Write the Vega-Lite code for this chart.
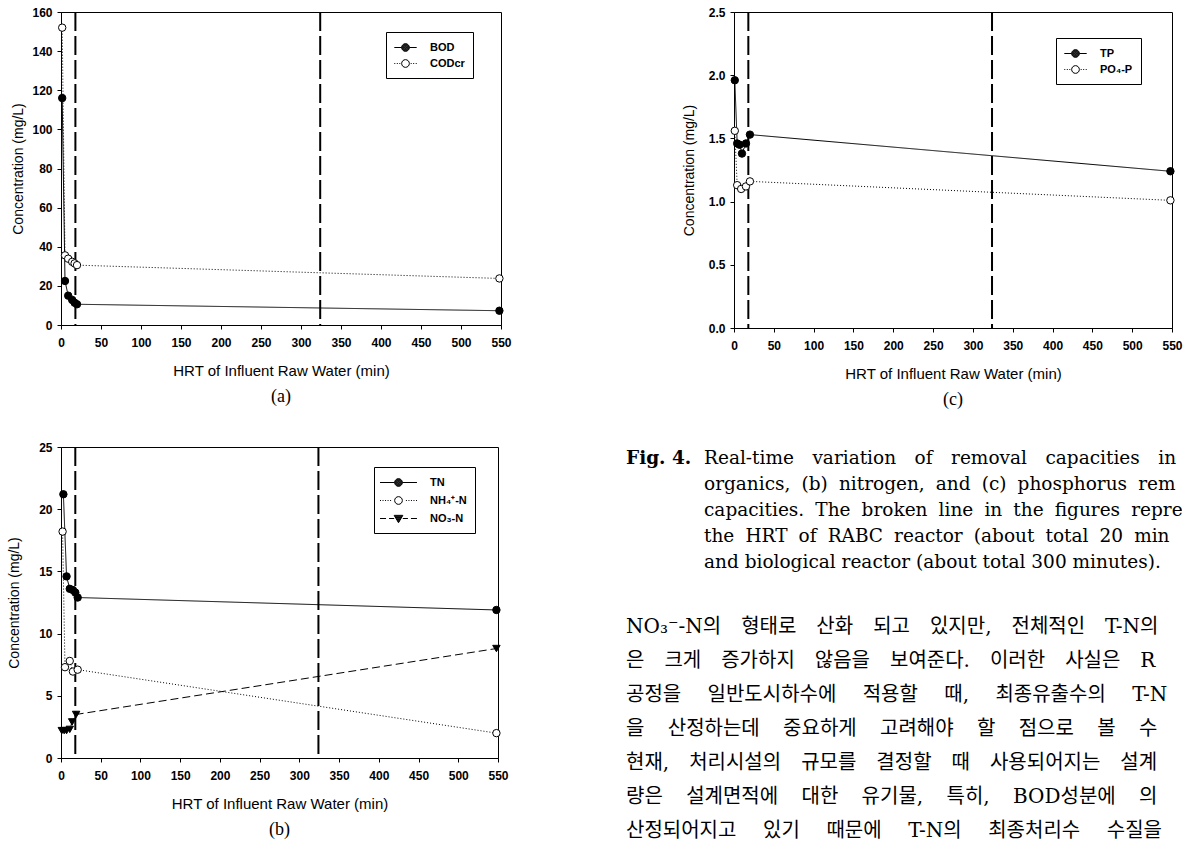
{
  "$schema": "https://vega.github.io/schema/vega-lite/v6.json",
  "background": "white",
  "padding": {"left": 7, "top": 5, "right": 0, "bottom": 0},
  "config": {
    "font": "Liberation Sans",
    "view": {"stroke": "black", "strokeWidth": 1},
    "axis": {"domainColor": "black", "domainWidth": 1, "tickColor": "black", "tickSize": 4, "labelFont": "Liberation Sans", "labelFontSize": 12, "labelFontWeight": "bold", "labelColor": "black", "titleFont": "Liberation Sans", "titleFontSize": 14, "titleFontWeight": "normal", "titleColor": "black", "grid": false},
    "axisX": {"labelPadding": 8, "titlePadding": 15, "titleFontSize": 15, "labelFlush": false, "labelOverlap": false},
    "axisY": {"labelPadding": 5, "titlePadding": 13, "labelOverlap": false},
    "title": {"font": "Liberation Serif", "fontSize": 18, "fontWeight": "normal", "color": "black"},
    "legend": {"title": null, "orient": "none", "direction": "vertical", "padding": 8, "strokeColor": "black", "fillColor": "white", "symbolSize": 196, "labelFont": "Liberation Sans", "labelFontSize": 11, "labelFontWeight": "bold", "labelColor": "black", "symbolStrokeColor": "black", "symbolStrokeWidth": 1, "symbolFillColor": "transparent", "symbolOpacity": 1}
  },
  "datasets": {
    "refLines": [{"hrt": 18}, {"hrt": 324}],
    "organics": [
      {"series": "BOD", "hrt": 1.5, "conc": 116},
      {"series": "BOD", "hrt": 5, "conc": 22.5},
      {"series": "BOD", "hrt": 9, "conc": 15},
      {"series": "BOD", "hrt": 14, "conc": 12.8},
      {"series": "BOD", "hrt": 17, "conc": 11.4},
      {"series": "BOD", "hrt": 20, "conc": 10.6},
      {"series": "BOD", "hrt": 548, "conc": 7.3},
      {"series": "CODcr", "hrt": 1.5, "conc": 152},
      {"series": "CODcr", "hrt": 5, "conc": 35.6},
      {"series": "CODcr", "hrt": 9, "conc": 33.9},
      {"series": "CODcr", "hrt": 14, "conc": 32.3},
      {"series": "CODcr", "hrt": 17, "conc": 31.5},
      {"series": "CODcr", "hrt": 20, "conc": 30.6},
      {"series": "CODcr", "hrt": 548, "conc": 23.8}
    ],
    "nitrogen": [
      {"series": "TN", "hrt": 3, "conc": 21.2},
      {"series": "TN", "hrt": 7, "conc": 14.6},
      {"series": "TN", "hrt": 11, "conc": 13.6},
      {"series": "TN", "hrt": 15, "conc": 13.5},
      {"series": "TN", "hrt": 18, "conc": 13.3},
      {"series": "TN", "hrt": 21, "conc": 12.9},
      {"series": "TN", "hrt": 548, "conc": 11.9},
      {"series": "NH₄⁺-N", "hrt": 2, "conc": 18.2},
      {"series": "NH₄⁺-N", "hrt": 5, "conc": 7.3},
      {"series": "NH₄⁺-N", "hrt": 11, "conc": 7.8},
      {"series": "NH₄⁺-N", "hrt": 15, "conc": 6.95},
      {"series": "NH₄⁺-N", "hrt": 21, "conc": 7.1},
      {"series": "NH₄⁺-N", "hrt": 548, "conc": 2.0},
      {"series": "NO₃-N", "hrt": 1, "conc": 2.2},
      {"series": "NO₃-N", "hrt": 4, "conc": 2.2},
      {"series": "NO₃-N", "hrt": 7, "conc": 2.2},
      {"series": "NO₃-N", "hrt": 11, "conc": 2.3},
      {"series": "NO₃-N", "hrt": 14, "conc": 2.9},
      {"series": "NO₃-N", "hrt": 19, "conc": 3.5},
      {"series": "NO₃-N", "hrt": 548, "conc": 8.8}
    ],
    "phosphorus": [
      {"series": "TP", "hrt": 1, "conc": 1.96},
      {"series": "TP", "hrt": 4, "conc": 1.46},
      {"series": "TP", "hrt": 7, "conc": 1.45},
      {"series": "TP", "hrt": 10, "conc": 1.38},
      {"series": "TP", "hrt": 15, "conc": 1.46},
      {"series": "TP", "hrt": 20, "conc": 1.53},
      {"series": "TP", "hrt": 548, "conc": 1.24},
      {"series": "PO₄-P", "hrt": 1, "conc": 1.56},
      {"series": "PO₄-P", "hrt": 4, "conc": 1.13},
      {"series": "PO₄-P", "hrt": 9, "conc": 1.10},
      {"series": "PO₄-P", "hrt": 15, "conc": 1.12},
      {"series": "PO₄-P", "hrt": 20, "conc": 1.16},
      {"series": "PO₄-P", "hrt": 548, "conc": 1.01}
    ],
    "textLines": [
      {"kind": "label", "line": 0, "indent": 0, "text": "Fig. 4."},
      {"kind": "caption", "line": 0, "indent": 1, "text": "Real-time\u2003variation\u2003of\u2003removal\u2003capacities\u2003in"},
      {"kind": "caption", "line": 1, "indent": 1, "text": "organics,\u2002\u200a(b)\u2002\u200anitrogen,\u2002\u200aand\u2002\u200a(c)\u2002\u200aphosphorus\u2002\u200arem"},
      {"kind": "caption", "line": 2, "indent": 1, "text": "capacities.\u2002\u200aThe\u2002\u200abroken\u2002\u200aline\u2002\u200ain\u2002\u200athe\u2002\u200afigures\u2002\u200arepre"},
      {"kind": "caption", "line": 3, "indent": 1, "text": "the\u2002\u200aHRT\u2002\u200aof\u2002\u200aRABC\u2002\u200areactor\u2002\u200a(about\u2002\u200atotal\u2002\u200a20\u2002\u200amin"},
      {"kind": "caption", "line": 4, "indent": 1, "text": "and biological reactor (about total 300 minutes)."},
      {"kind": "body", "line": 0, "indent": 0, "text": "NO₃⁻-N의\u2003형태로\u2003산화\u2003되고\u2003있지만,\u2003전체적인\u2003T-N의"},
      {"kind": "body", "line": 1, "indent": 0, "text": "은\u2003크게\u2003증가하지\u2003않음을\u2003보여준다.\u2003이러한\u2003사실은\u2003R"},
      {"kind": "body", "line": 2, "indent": 0, "text": "공정을\u2003 일반도시하수에\u2003 적용할\u2003 때,\u2003 최종유출수의\u2003 T-N"},
      {"kind": "body", "line": 3, "indent": 0, "text": "을\u2003\u2006산정하는데\u2003\u2006중요하게\u2003\u2006고려해야\u2003\u2006할\u2003\u2006점으로\u2003\u2006볼\u2003\u2006수"},
      {"kind": "body", "line": 4, "indent": 0, "text": "현재,\u2003처리시설의\u2003규모를\u2003결정할\u2003때\u2003사용되어지는\u2003설계"},
      {"kind": "body", "line": 5, "indent": 0, "text": "량은\u2003\u2006설계면적에\u2003\u2006대한\u2003\u2006유기물,\u2003\u2006특히,\u2003\u2006BOD성분에\u2003\u2006의"},
      {"kind": "body", "line": 6, "indent": 0, "text": "산정되어지고\u2003\u2004있기\u2003\u2004때문에\u2003\u2004T-N의\u2003\u2004최종처리수\u2003\u2004수질을"}
    ]
  },
  "spacing": 30,
  "columns": 1,
  "align": "none",
  "resolve": {"scale": {"shape": "independent"}},
  "concat": [
    {
      "spacing": 169,
      "resolve": {"scale": {"shape": "independent"}},
      "hconcat": [
        {
          "width": 440,
          "height": 313,
          "title": {"text": "(a)", "orient": "bottom", "offset": 10},
          "encoding": {
            "x": {"field": "hrt", "type": "quantitative", "scale": {"domain": [0, 550], "nice": false, "zero": false}, "axis": {"title": "HRT of Influent Raw Water (min)", "values": [0, 50, 100, 150, 200, 250, 300, 350, 400, 450, 500, 550]}}
          },
          "layer": [
            {"data": {"name": "refLines"}, "mark": {"type": "rule", "color": "black", "strokeWidth": 2, "strokeDash": [19, 5]}, "encoding": {}},
            {
              "data": {"name": "organics"},
              "mark": {"type": "line", "color": "black", "strokeWidth": 1},
              "encoding": {
                "y": {"field": "conc", "type": "quantitative", "scale": {"domain": [0, 160], "nice": false}, "axis": {"title": "Concentration (mg/L)", "values": [0, 20, 40, 60, 80, 100, 120, 140, 160], "titlePadding": 6}},
                "detail": {"field": "series", "type": "nominal"},
                "strokeDash": {"condition": {"test": "datum.series === 'CODcr'", "value": [1, 2]}, "value": [1, 0]}
              }
            },
            {
              "data": {"name": "organics"},
              "mark": {"type": "point", "shape": "circle", "filled": true, "stroke": "black", "strokeWidth": 1, "size": 55, "opacity": 1},
              "encoding": {
                "y": {"field": "conc", "type": "quantitative", "scale": {"domain": [0, 160], "nice": false}, "axis": {"title": "Concentration (mg/L)", "values": [0, 20, 40, 60, 80, 100, 120, 140, 160], "titlePadding": 6}},
                "fill": {"condition": {"test": "datum.series === 'CODcr'", "value": "white"}, "value": "black"}
              }
            },
            {
              "data": {"name": "organics"},
              "transform": [{"filter": "false"}],
              "mark": {"type": "point", "filled": false, "stroke": "black", "strokeWidth": 1},
              "encoding": {
                "y": {"field": "conc", "type": "quantitative", "scale": {"domain": [0, 160], "nice": false}, "axis": {"title": "Concentration (mg/L)", "values": [0, 20, 40, 60, 80, 100, 120, 140, 160], "titlePadding": 6}},
                "shape": {"field": "series", "type": "nominal",
                  "scale": {"domain": ["BOD", "CODcr"], "range": [
                    "M-1.6,0L-0.55,0M0.55,0L1.6,0M0.55,0C0.55,0.304 0.304,0.55 0,0.55C-0.304,0.55 -0.55,0.304 -0.55,0C-0.55,-0.304 -0.304,-0.55 0,-0.55C0.304,-0.55 0.55,-0.304 0.55,0ZM0.47,0C0.47,0.26 0.26,0.47 0,0.47C-0.26,0.47 -0.47,0.26 -0.47,0C-0.47,-0.26 -0.26,-0.47 0,-0.47C0.26,-0.47 0.47,-0.26 0.47,0ZM0.39,0C0.39,0.215 0.215,0.39 0,0.39C-0.215,0.39 -0.39,0.215 -0.39,0C-0.39,-0.215 -0.215,-0.39 0,-0.39C0.215,-0.39 0.39,-0.215 0.39,0ZM0.31,0C0.31,0.171 0.171,0.31 0,0.31C-0.171,0.31 -0.31,0.171 -0.31,0C-0.31,-0.171 -0.171,-0.31 0,-0.31C0.171,-0.31 0.31,-0.171 0.31,0ZM0.23,0C0.23,0.127 0.127,0.23 0,0.23C-0.127,0.23 -0.23,0.127 -0.23,0C-0.23,-0.127 -0.127,-0.23 0,-0.23C0.127,-0.23 0.23,-0.127 0.23,0ZM0.15,0C0.15,0.083 0.083,0.15 0,0.15C-0.083,0.15 -0.15,0.083 -0.15,0C-0.15,-0.083 -0.083,-0.15 0,-0.15C0.083,-0.15 0.15,-0.083 0.15,0ZM0.07,0C0.07,0.039 0.039,0.07 0,0.07C-0.039,0.07 -0.07,0.039 -0.07,0C-0.07,-0.039 -0.039,-0.07 0,-0.07C0.039,-0.07 0.07,-0.039 0.07,0Z",
                    "M-1.6,0L-1.46,0M-1.24,0L-1.1,0M-0.88,0L-0.74,0M0.74,0L0.88,0M1.1,0L1.24,0M1.46,0L1.6,0M0.55,0C0.55,0.304 0.304,0.55 0,0.55C-0.304,0.55 -0.55,0.304 -0.55,0C-0.55,-0.304 -0.304,-0.55 0,-0.55C0.304,-0.55 0.55,-0.304 0.55,0Z"
                  ]},
                  "legend": {"legendX": 325, "legendY": 20, "symbolOffset": 4, "labelOffset": 17, "rowPadding": 2}
                }
              }
            }
          ]
        },
        {
          "width": 438,
          "height": 316,
          "title": {"text": "(c)", "orient": "bottom", "offset": 10},
          "encoding": {
            "x": {"field": "hrt", "type": "quantitative", "scale": {"domain": [0, 550], "nice": false, "zero": false}, "axis": {"title": "HRT of Influent Raw Water (min)", "values": [0, 50, 100, 150, 200, 250, 300, 350, 400, 450, 500, 550]}}
          },
          "layer": [
            {"data": {"name": "refLines"}, "mark": {"type": "rule", "color": "black", "strokeWidth": 2, "strokeDash": [19, 5]}, "encoding": {}},
            {
              "data": {"name": "phosphorus"},
              "mark": {"type": "line", "color": "black", "strokeWidth": 1},
              "encoding": {
                "y": {"field": "conc", "type": "quantitative", "scale": {"domain": [0, 2.5], "nice": false}, "axis": {"title": "Concentration (mg/L)", "values": [0, 0.5, 1, 1.5, 2, 2.5], "format": ".1f", "titlePadding": 12}},
                "detail": {"field": "series", "type": "nominal"},
                "strokeDash": {"condition": {"test": "datum.series === 'PO₄-P'", "value": [1, 2]}, "value": [1, 0]}
              }
            },
            {
              "data": {"name": "phosphorus"},
              "mark": {"type": "point", "shape": "circle", "filled": true, "stroke": "black", "strokeWidth": 1, "size": 55, "opacity": 1},
              "encoding": {
                "y": {"field": "conc", "type": "quantitative", "scale": {"domain": [0, 2.5], "nice": false}, "axis": {"title": "Concentration (mg/L)", "values": [0, 0.5, 1, 1.5, 2, 2.5], "format": ".1f", "titlePadding": 12}},
                "fill": {"condition": {"test": "datum.series === 'PO₄-P'", "value": "white"}, "value": "black"}
              }
            },
            {
              "data": {"name": "phosphorus"},
              "transform": [{"filter": "false"}],
              "mark": {"type": "point", "filled": false, "stroke": "black", "strokeWidth": 1},
              "encoding": {
                "y": {"field": "conc", "type": "quantitative", "scale": {"domain": [0, 2.5], "nice": false}, "axis": {"title": "Concentration (mg/L)", "values": [0, 0.5, 1, 1.5, 2, 2.5], "format": ".1f", "titlePadding": 12}},
                "shape": {"field": "series", "type": "nominal",
                  "scale": {"domain": ["TP", "PO₄-P"], "range": [
                    "M-1.6,0L-0.55,0M0.55,0L1.6,0M0.55,0C0.55,0.304 0.304,0.55 0,0.55C-0.304,0.55 -0.55,0.304 -0.55,0C-0.55,-0.304 -0.304,-0.55 0,-0.55C0.304,-0.55 0.55,-0.304 0.55,0ZM0.47,0C0.47,0.26 0.26,0.47 0,0.47C-0.26,0.47 -0.47,0.26 -0.47,0C-0.47,-0.26 -0.26,-0.47 0,-0.47C0.26,-0.47 0.47,-0.26 0.47,0ZM0.39,0C0.39,0.215 0.215,0.39 0,0.39C-0.215,0.39 -0.39,0.215 -0.39,0C-0.39,-0.215 -0.215,-0.39 0,-0.39C0.215,-0.39 0.39,-0.215 0.39,0ZM0.31,0C0.31,0.171 0.171,0.31 0,0.31C-0.171,0.31 -0.31,0.171 -0.31,0C-0.31,-0.171 -0.171,-0.31 0,-0.31C0.171,-0.31 0.31,-0.171 0.31,0ZM0.23,0C0.23,0.127 0.127,0.23 0,0.23C-0.127,0.23 -0.23,0.127 -0.23,0C-0.23,-0.127 -0.127,-0.23 0,-0.23C0.127,-0.23 0.23,-0.127 0.23,0ZM0.15,0C0.15,0.083 0.083,0.15 0,0.15C-0.083,0.15 -0.15,0.083 -0.15,0C-0.15,-0.083 -0.083,-0.15 0,-0.15C0.083,-0.15 0.15,-0.083 0.15,0ZM0.07,0C0.07,0.039 0.039,0.07 0,0.07C-0.039,0.07 -0.07,0.039 -0.07,0C-0.07,-0.039 -0.039,-0.07 0,-0.07C0.039,-0.07 0.07,-0.039 0.07,0Z",
                    "M-1.6,0L-1.46,0M-1.24,0L-1.1,0M-0.88,0L-0.74,0M0.74,0L0.88,0M1.1,0L1.24,0M1.46,0L1.6,0M0.55,0C0.55,0.304 0.304,0.55 0,0.55C-0.304,0.55 -0.55,0.304 -0.55,0C-0.55,-0.304 -0.304,-0.55 0,-0.55C0.304,-0.55 0.55,-0.304 0.55,0Z"
                  ]},
                  "legend": {"legendX": 322, "legendY": 26, "symbolOffset": 4, "labelOffset": 17, "rowPadding": 2}
                }
              }
            }
          ]
        }
      ]
    },
    {
      "spacing": 117,
      "resolve": {"scale": {"shape": "independent"}},
      "hconcat": [
        {
          "width": 437,
          "height": 311,
          "title": {"text": "(b)", "orient": "bottom", "offset": 10},
          "encoding": {
            "x": {"field": "hrt", "type": "quantitative", "scale": {"domain": [0, 550], "nice": false, "zero": false}, "axis": {"title": "HRT of Influent Raw Water (min)", "values": [0, 50, 100, 150, 200, 250, 300, 350, 400, 450, 500, 550]}}
          },
          "layer": [
            {"data": {"name": "refLines"}, "mark": {"type": "rule", "color": "black", "strokeWidth": 2, "strokeDash": [19, 5]}, "encoding": {}},
            {
              "data": {"name": "nitrogen"},
              "mark": {"type": "line", "color": "black", "strokeWidth": 1},
              "encoding": {
                "y": {"field": "conc", "type": "quantitative", "scale": {"domain": [0, 25], "nice": false}, "axis": {"title": "Concentration (mg/L)", "values": [0, 5, 10, 15, 20, 25], "titlePadding": 17}},
                "detail": {"field": "series", "type": "nominal"},
                "strokeDash": {"condition": [{"test": "datum.series === 'NH₄⁺-N'", "value": [1, 2]}, {"test": "datum.series === 'NO₃-N'", "value": [8, 4]}], "value": [1, 0]}
              }
            },
            {
              "data": {"name": "nitrogen"},
              "mark": {"type": "point", "filled": true, "stroke": "black", "strokeWidth": 1, "size": 55, "opacity": 1},
              "encoding": {
                "y": {"field": "conc", "type": "quantitative", "scale": {"domain": [0, 25], "nice": false}, "axis": {"title": "Concentration (mg/L)", "values": [0, 5, 10, 15, 20, 25], "titlePadding": 17}},
                "fill": {"condition": {"test": "datum.series === 'NH₄⁺-N'", "value": "white"}, "value": "black"},
                "shape": {"condition": {"test": "datum.series === 'NO₃-N'", "value": "triangle-down"}, "value": "circle"}
              }
            },
            {
              "data": {"name": "nitrogen"},
              "transform": [{"filter": "false"}],
              "mark": {"type": "point", "filled": false, "stroke": "black", "strokeWidth": 1},
              "encoding": {
                "y": {"field": "conc", "type": "quantitative", "scale": {"domain": [0, 25], "nice": false}, "axis": {"title": "Concentration (mg/L)", "values": [0, 5, 10, 15, 20, 25], "titlePadding": 17}},
                "shape": {"field": "series", "type": "nominal",
                  "scale": {"domain": ["TN", "NH₄⁺-N", "NO₃-N"], "range": [
                    "M-2.64,0L-0.55,0M0.55,0L2.64,0M0.55,0C0.55,0.304 0.304,0.55 0,0.55C-0.304,0.55 -0.55,0.304 -0.55,0C-0.55,-0.304 -0.304,-0.55 0,-0.55C0.304,-0.55 0.55,-0.304 0.55,0ZM0.47,0C0.47,0.26 0.26,0.47 0,0.47C-0.26,0.47 -0.47,0.26 -0.47,0C-0.47,-0.26 -0.26,-0.47 0,-0.47C0.26,-0.47 0.47,-0.26 0.47,0ZM0.39,0C0.39,0.215 0.215,0.39 0,0.39C-0.215,0.39 -0.39,0.215 -0.39,0C-0.39,-0.215 -0.215,-0.39 0,-0.39C0.215,-0.39 0.39,-0.215 0.39,0ZM0.31,0C0.31,0.171 0.171,0.31 0,0.31C-0.171,0.31 -0.31,0.171 -0.31,0C-0.31,-0.171 -0.171,-0.31 0,-0.31C0.171,-0.31 0.31,-0.171 0.31,0ZM0.23,0C0.23,0.127 0.127,0.23 0,0.23C-0.127,0.23 -0.23,0.127 -0.23,0C-0.23,-0.127 -0.127,-0.23 0,-0.23C0.127,-0.23 0.23,-0.127 0.23,0ZM0.15,0C0.15,0.083 0.083,0.15 0,0.15C-0.083,0.15 -0.15,0.083 -0.15,0C-0.15,-0.083 -0.083,-0.15 0,-0.15C0.083,-0.15 0.15,-0.083 0.15,0ZM0.07,0C0.07,0.039 0.039,0.07 0,0.07C-0.039,0.07 -0.07,0.039 -0.07,0C-0.07,-0.039 -0.039,-0.07 0,-0.07C0.039,-0.07 0.07,-0.039 0.07,0Z",
                    "M-2.64,0L-2.5,0M-2.28,0L-2.14,0M-1.92,0L-1.78,0M-1.56,0L-1.42,0M-1.2,0L-1.06,0M1.06,0L1.2,0M1.42,0L1.56,0M1.78,0L1.92,0M2.14,0L2.28,0M2.5,0L2.64,0M0.55,0C0.55,0.304 0.304,0.55 0,0.55C-0.304,0.55 -0.55,0.304 -0.55,0C-0.55,-0.304 -0.304,-0.55 0,-0.55C0.304,-0.55 0.55,-0.304 0.55,0Z",
                    "M-2.64,0L-1.78,0M-1.35,0L-0.62,0M0.62,0L1.35,0M1.78,0L2.64,0M-0.62,-0.45L0.62,-0.45L0,0.6ZM-0.56,-0.35L0.56,-0.35M-0.5,-0.25L0.5,-0.25M-0.44,-0.15L0.44,-0.15M-0.38,-0.05L0.38,-0.05M-0.33,0.05L0.33,0.05M-0.27,0.15L0.27,0.15M-0.21,0.25L0.21,0.25M-0.15,0.35L0.15,0.35M-0.09,0.45L0.09,0.45"
                  ]},
                  "legend": {"legendX": 313, "legendY": 20, "symbolOffset": 9, "labelOffset": 24, "rowPadding": 4}
                }
              }
            }
          ]
        },
        {
          "width": 556,
          "height": 395,
          "view": {"stroke": null},
          "data": {"name": "textLines"},
          "encoding": {
            "x": {"field": "indent", "type": "quantitative", "scale": {"domain": [0, 1], "range": [0, 78]}, "axis": null}
          },
          "layer": [
            {
              "transform": [{"filter": "datum.kind === 'label'"}],
              "mark": {"type": "text", "align": "left", "baseline": "middle", "font": "DejaVu Serif", "fontSize": 18.5, "fontWeight": "bold", "color": "black", "clip": true},
              "encoding": {
                "y": {"field": "line", "type": "quantitative", "scale": {"domain": [0, 4], "range": [11, 115]}, "axis": null},
                "text": {"field": "text"}
              }
            },
            {
              "transform": [{"filter": "datum.kind === 'caption'"}],
              "mark": {"type": "text", "align": "left", "baseline": "middle", "font": "DejaVu Serif", "fontSize": 18.5, "color": "black", "clip": true},
              "encoding": {
                "y": {"field": "line", "type": "quantitative", "scale": {"domain": [0, 4], "range": [11, 115]}, "axis": null},
                "text": {"field": "text"}
              }
            },
            {
              "transform": [{"filter": "datum.kind === 'body'"}],
              "mark": {"type": "text", "align": "left", "baseline": "middle", "font": "DejaVu Serif, Noto Sans CJK KR", "fontSize": 20, "color": "black", "clip": true},
              "encoding": {
                "y": {"field": "line", "type": "quantitative", "scale": {"domain": [0, 6], "range": [180, 384]}, "axis": null},
                "text": {"field": "text"}
              }
            }
          ],
          "resolve": {"scale": {"y": "independent"}}
        }
      ]
    }
  ]
}
